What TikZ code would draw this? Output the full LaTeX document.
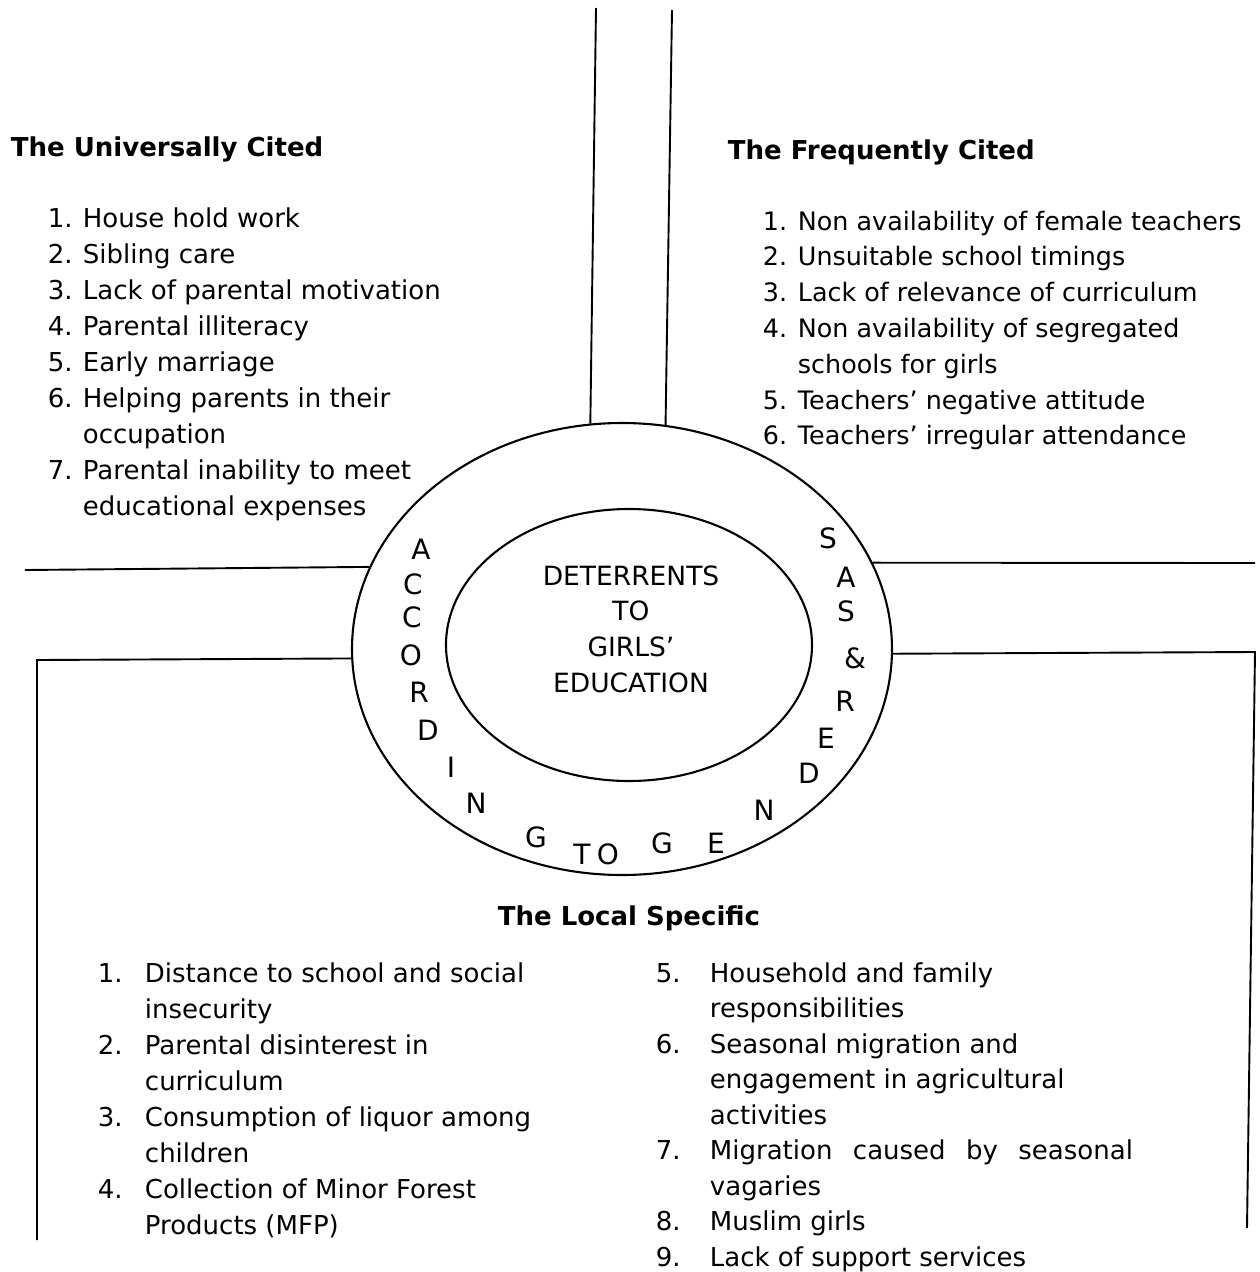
\documentclass[tikz,border=0pt]{standalone}
\usepackage{fontspec}
\setmainfont{DejaVu Sans}
\usetikzlibrary{shapes.geometric}
\begin{document}
\begin{tikzpicture}[x=1pt,y=-1pt,
  line width=1.9pt,
  body/.style={inner sep=0pt, font=\fontsize{26}{36}\selectfont},
  head/.style={inner sep=0pt, anchor=base west, font=\fontsize{26}{36}\selectfont\bfseries},
  listbox/.style={inner sep=0pt, anchor=base west},
  ring/.style={inner sep=0pt, font=\fontsize{28}{36}\selectfont},
  oval/.style={draw, ellipse, inner sep=0pt, line width=2.1pt}
]
\useasboundingbox (0,0) rectangle (1260,1272);

% central rings
\node[oval, minimum width=540pt, minimum height=452pt] (outer) at (622,649) {};
\node[oval, minimum width=366pt, minimum height=272pt] (inner) at (629,645) {};

\node[body, align=center, font=\fontsize{26.5}{35.7}\selectfont] (core) at (631,629)
  {DETERRENTS\\TO\\GIRLS’\\EDUCATION};

% lettering around the ring
\node[ring] (r1)  at (421,549) {A};
\node[ring] (r2)  at (413,584) {C};
\node[ring] (r3)  at (412,617) {C};
\node[ring] (r4)  at (411,655) {O};
\node[ring] (r5)  at (419,692) {R};
\node[ring] (r6)  at (428,730) {D};
\node[ring] (r7)  at (451,767) {I};
\node[ring] (r8)  at (476,803) {N};
\node[ring] (r9)  at (536,837) {G};
\node[ring] (r10) at (582,854) {T};
\node[ring] (r11) at (608,854) {O};
\node[ring] (r12) at (662,843) {G};
\node[ring] (r13) at (716,843) {E};
\node[ring] (r14) at (764,810) {N};
\node[ring] (r15) at (809,773) {D};
\node[ring] (r16) at (826,738) {E};
\node[ring] (r17) at (845,701) {R};
\node[ring] (r18) at (855,658) {\&};
\node[ring] (r19) at (846,611) {S};
\node[ring] (r20) at (846,577) {A};
\node[ring] (r21) at (828,538) {S};

% dividing lines
\coordinate (tl) at (596,8);
\coordinate (tr) at (672,10);
\coordinate (ul) at (25,570);
\coordinate (ll) at (37,660);
\coordinate (llb) at (37,1240);
\coordinate (ur) at (1255,563);
\coordinate (lr) at (1255,652);
\coordinate (lrb) at (1247,1228);

\draw (tl) -- (outer.98.6);
\draw (tr) -- (outer.79.1);
\draw (ul) -- (outer.162.66);
\draw (llb) -- (ll) -- (outer.182.34);
\draw (ur) -- (outer.19.0);
\draw (lrb) -- (lr) -- (outer.359.4);

% headings
\node[head] (hu) at (10,156) {The Universally Cited};
\node[head] (hf) at (727,159) {The Frequently Cited};
\node[head, anchor=base] (hl) at (629,925) {The Local Specific};

% lists
\node[listbox, font=\fontsize{26}{36}\selectfont] (univ) at (47,227) {%
\begin{tabular}[t]{@{}p{35pt}@{}l@{}}
1.& House hold work\\
2.& Sibling care\\
3.& Lack of parental motivation\\
4.& Parental illiteracy\\
5.& Early marriage\\
6.& Helping parents in their\\
  & occupation\\
7.& Parental inability to meet\\
  & educational expenses
\end{tabular}};

\node[listbox, font=\fontsize{25.4}{35.8}\selectfont] (freq) at (762,230) {%
\begin{tabular}[t]{@{}p{35pt}@{}l@{}}
1.& Non availability of female teachers\\
2.& Unsuitable school timings\\
3.& Lack of relevance of curriculum\\
4.& Non availability of segregated\\
  & schools for girls\\
5.& Teachers’ negative attitude\\
6.& Teachers’ irregular attendance
\end{tabular}};

\node[listbox, font=\fontsize{26}{36}\selectfont] (loc1) at (97,982) {%
\begin{tabular}[t]{@{}p{47pt}@{}l@{}}
1.& Distance to school and social\\
  & insecurity\\
2.& Parental disinterest in\\
  & curriculum\\
3.& Consumption of liquor among\\
  & children\\
4.& Collection of Minor Forest\\
  & Products (MFP)
\end{tabular}};

\node[listbox, font=\fontsize{26}{35.5}\selectfont] (loc2) at (655,982) {%
\begin{tabular}[t]{@{}p{54pt}@{}l@{}}
5.& Household and family\\
  & responsibilities\\
6.& Seasonal migration and\\
  & engagement in agricultural\\
  & activities\\
7.& \makebox[423pt][s]{Migration caused by seasonal}\\
  & vagaries\\
8.& Muslim girls\\
9.& Lack of support services
\end{tabular}};
\end{tikzpicture}
\end{document}
